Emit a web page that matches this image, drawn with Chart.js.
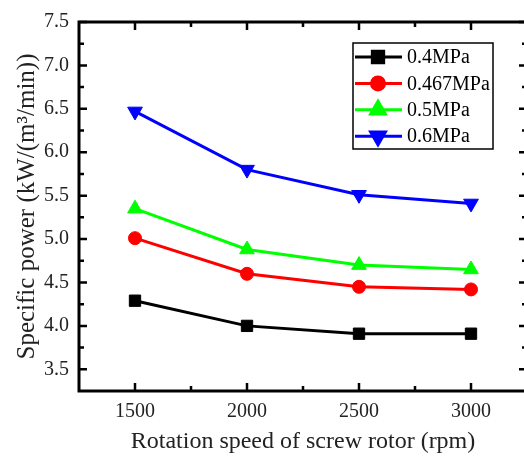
<!DOCTYPE html>
<html lang="en">
<head>
    <meta charset="UTF-8">
    <title>Specific power</title>
    <style>
        html, body {
            margin: 0;
            padding: 0;
            background: #fff;
            overflow: hidden;
        }
        .wrap {
            width: 540px;
            height: 460px;
        }
    </style>
</head>
<body>
    <div class="wrap">
        <canvas id="myChart" width="540" height="460"></canvas>
    </div>
    <script src="https://cdn.jsdelivr.net/npm/chart.js@4.4.1/dist/chart.umd.min.js"></script>
    <script>
        const speeds = [1500, 2000, 2500, 3000];
        const p04 = [4.29, 4.00, 3.91, 3.91];
        const p0467 = [5.01, 4.60, 4.45, 4.42];
        const p05 = [5.35, 4.88, 4.70, 4.65];
        const p06 = [6.47, 5.80, 5.51, 5.41];
        const seriesNames = ['0.4MPa', '0.467MPa', '0.5MPa', '0.6MPa'];
        const xTicks = [1500, 2000, 2500, 3000];
        const xMinor = [1750, 2250, 2750];
        const yTicks = [3.5, 4.0, 4.5, 5.0, 5.5, 6.0, 6.5, 7.0, 7.5];
        const yMinor = [3.75, 4.25, 4.75, 5.25, 5.75, 6.25, 6.75, 7.25];

        const serif = '"Liberation Serif", "Times New Roman", serif';

        function series(label, values, color, style, radius, rotation) {
            return {
                label: label,
                data: speeds.map((s, i) => ({x: s, y: values[i]})),
                borderColor: color,
                backgroundColor: color,
                borderWidth: 3,
                pointStyle: style,
                pointRadius: radius,
                pointHoverRadius: radius,
                pointRotation: rotation,
                pointBorderWidth: 1,
                tension: 0
            };
        }

        const data = {
            datasets: [
                series(seriesNames[0], p04, '#000000', 'rect', 8, 0),
                series(seriesNames[1], p0467, '#ff0000', 'circle', 6.5, 0),
                series(seriesNames[2], p05, '#00ff00', 'triangle', 8.5, 0),
                series(seriesNames[3], p06, '#0000ff', 'triangle', 8.5, 180)
            ]
        };

        // frame, inward ticks and legend box
        const framePlugin = {
            id: 'frame',
            afterDraw(chart) {
                const ctx = chart.ctx;
                const a = chart.chartArea;
                const xs = chart.scales.x;
                const ys = chart.scales.y;
                ctx.save();
                ctx.strokeStyle = '#000';
                ctx.lineWidth = 2.5;
                ctx.beginPath();
                xTicks.forEach(v => {
                    const px = xs.getPixelForValue(v);
                    ctx.moveTo(px, a.bottom); ctx.lineTo(px, a.bottom - 8);
                    ctx.moveTo(px, a.top); ctx.lineTo(px, a.top + 8);
                });
                xMinor.forEach(v => {
                    const px = xs.getPixelForValue(v);
                    ctx.moveTo(px, a.bottom); ctx.lineTo(px, a.bottom - 5);
                    ctx.moveTo(px, a.top); ctx.lineTo(px, a.top + 5);
                });
                yTicks.forEach(v => {
                    const py = ys.getPixelForValue(v);
                    ctx.moveTo(a.left, py); ctx.lineTo(a.left + 8, py);
                    ctx.moveTo(a.right, py); ctx.lineTo(a.right - 8, py);
                });
                yMinor.forEach(v => {
                    const py = ys.getPixelForValue(v);
                    ctx.moveTo(a.left, py); ctx.lineTo(a.left + 5, py);
                    ctx.moveTo(a.right, py); ctx.lineTo(a.right - 5, py);
                });
                ctx.stroke();
                ctx.lineWidth = 3;
                ctx.strokeRect(a.left, a.top, a.right - a.left, a.bottom - a.top);

                // legend
                const lx = 353, ly = 43, lw = 140, lh = 106;
                ctx.lineWidth = 1.5;
                ctx.strokeRect(lx, ly, lw, lh);
                ctx.font = '20px ' + serif;
                ctx.textBaseline = 'middle';
                ctx.textAlign = 'left';
                chart.data.datasets.forEach((ds, i) => {
                    const cy = ly + 14 + i * 26.4;
                    ctx.strokeStyle = ds.borderColor;
                    ctx.lineWidth = 3;
                    ctx.beginPath();
                    ctx.moveTo(lx + 2, cy);
                    ctx.lineTo(lx + 49, cy);
                    ctx.stroke();
                    ctx.fillStyle = ds.backgroundColor;
                    Chart.helpers.drawPoint(ctx, {
                        pointStyle: ds.pointStyle,
                        radius: ds.pointRadius,
                        rotation: ds.pointRotation,
                        borderWidth: 1
                    }, lx + 25, cy);
                    ctx.fillStyle = '#000';
                    ctx.fillText(ds.label, lx + 54, cy + 1);
                });
                ctx.restore();
            }
        };

        const ctx = document.getElementById('myChart').getContext('2d');
        const myChart = new Chart(ctx, {
            type: 'line',
            data: data,
            plugins: [framePlugin],
            options: {
                responsive: false,
                animation: false,
                layout: {
                    padding: {top: 20, right: 13, left: 0, bottom: 0}
                },
                plugins: {
                    legend: {display: false},
                    tooltip: {enabled: false}
                },
                scales: {
                    x: {
                        type: 'linear',
                        min: 1250,
                        max: 3250,
                        grid: {display: false, drawTicks: false},
                        border: {display: false},
                        afterBuildTicks: (scale) => {
                            scale.ticks = xTicks.map(v => ({value: v}));
                        },
                        afterFit: (scale) => {
                            scale.height = 69;
                        },
                        ticks: {
                            color: '#222',
                            padding: 9,
                            maxRotation: 0,
                            font: {family: serif, size: 20},
                            callback: (v) => String(v)
                        },
                        title: {
                            display: true,
                            text: 'Rotation speed of screw rotor (rpm)',
                            color: '#222',
                            font: {family: serif, size: 24},
                            padding: {top: 0, bottom: 4}
                        }
                    },
                    y: {
                        min: 3.25,
                        max: 7.5,
                        grid: {display: false, drawTicks: false},
                        border: {display: false},
                        afterBuildTicks: (scale) => {
                            scale.ticks = yTicks.map(v => ({value: v}));
                        },
                        afterFit: (scale) => {
                            scale.width = 79;
                        },
                        ticks: {
                            color: '#222',
                            padding: 10,
                            font: {family: serif, size: 20},
                            callback: (v) => Number(v).toFixed(1)
                        },
                        title: {
                            display: true,
                            text: 'Specific power (kW/(m³/min))',
                            color: '#222',
                            font: {family: serif, size: 25},
                            padding: {top: 12, bottom: 0}
                        }
                    }
                }
            }
        });
    </script>
</body>
</html>
